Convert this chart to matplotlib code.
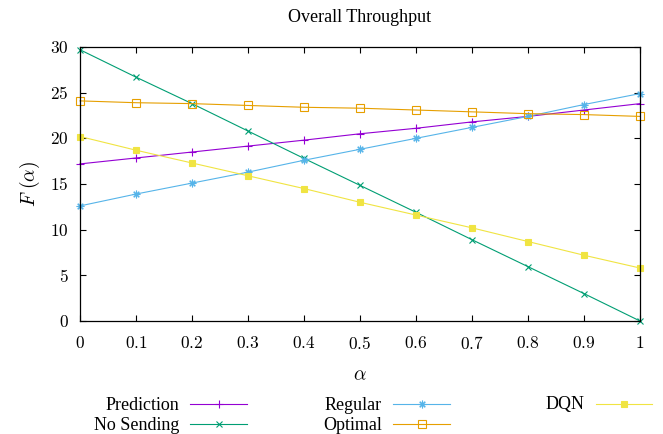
import matplotlib
matplotlib.use("Agg")
import matplotlib.pyplot as plt
from matplotlib.lines import Line2D

plt.rcParams['font.family'] = ['Liberation Serif', 'DejaVu Serif']
plt.rcParams['mathtext.fontset'] = 'cm'

alpha = [0, 0.1, 0.2, 0.3, 0.4, 0.5, 0.6, 0.7, 0.8, 0.9, 1]
prediction = [17.2, 17.85, 18.5, 19.15, 19.8, 20.5, 21.1, 21.8, 22.4, 23.1, 23.8]
no_sending = [29.7, 26.7, 23.8, 20.8, 17.8, 14.85, 11.9, 8.9, 5.95, 3.0, 0.0]
regular = [12.6, 13.9, 15.1, 16.3, 17.6, 18.8, 20.0, 21.2, 22.4, 23.7, 24.9]
optimal = [24.1, 23.9, 23.8, 23.6, 23.4, 23.3, 23.1, 22.9, 22.7, 22.6, 22.4]
dqn = [20.2, 18.7, 17.3, 15.9, 14.5, 13.0, 11.6, 10.2, 8.7, 7.2, 5.8]

xticks = [0, 0.1, 0.2, 0.3, 0.4, 0.5, 0.6, 0.7, 0.8, 0.9, 1]
xticklabels = ['0', '0.1', '0.2', '0.3', '0.4', '0.5', '0.6', '0.7', '0.8', '0.9', '1']
yticks = [0, 5, 10, 15, 20, 25, 30]
yticklabels = ['0', '5', '10', '15', '20', '25', '30']

# name, data, colour, marker kwargs
series = [
    ('Prediction', prediction, '#9400d3', dict(marker='+', ms=5.5, mew=0.8)),
    ('No Sending', no_sending, '#009e73', dict(marker='x', ms=4.5, mew=0.8)),
    ('Regular', regular, '#56b4e9', dict(marker=(8, 2, 0), ms=5.5, mew=0.8)),
    ('Optimal', optimal, '#e69f00', dict(marker='s', ms=5.5, mew=0.8, mfc='none')),
    ('DQN', dqn, '#f0e442', dict(marker='s', ms=4.5, mew=0.8)),
]

fig = plt.figure(figsize=(6.63, 4.34), dpi=100)
ax = fig.add_axes([80/663, 1-321/434, 560/663, 274/434])

for name, vals, c, mk in series:
    ax.plot(alpha, vals, color=c, lw=0.8, clip_on=False, **mk)

ax.set_xlim(0, 1)
ax.set_ylim(0, 30)
ax.set_xticks(xticks)
ax.set_xticklabels(['$%s$' % t for t in xticklabels])
ax.set_yticks(yticks)
ax.set_yticklabels(['$%s$' % t for t in yticklabels])
ax.tick_params(direction='in', top=True, right=True, length=4.5, width=0.8,
               labelsize=12.5)
ax.tick_params(axis='x', pad=11)
ax.tick_params(axis='y', pad=8)
for s in ax.spines.values():
    s.set_linewidth(0.9)

ax.set_title('Overall Throughput', fontsize=13, pad=18)
ax.set_xlabel(r'$\alpha$', fontsize=14, labelpad=10)
ax.set_ylabel(r'$F\ (\alpha)$', fontsize=14, labelpad=6)

# gnuplot style key below the plot: right-aligned labels, sample to the right
cols = [(179, 190, 247), (382, 393, 450), (584, 596, 652)]
rows = [404, 424]
for i, (name, vals, c, mk) in enumerate(series):
    tx, x0, x1 = cols[i // 2]
    y = rows[i % 2]
    fy = 1 - y/434
    fig.text(tx/663, 1 - (y + 5.5)/434, name, ha='right', va='baseline', fontsize=13)
    fig.add_artist(Line2D([x0/663, x1/663], [fy, fy], color=c, lw=0.8,
                          transform=fig.transFigure))
    fig.add_artist(Line2D([(x0+x1)/2/663], [fy], color=c, lw=0,
                          transform=fig.transFigure, **mk))

fig.savefig('out.png', dpi=100)
